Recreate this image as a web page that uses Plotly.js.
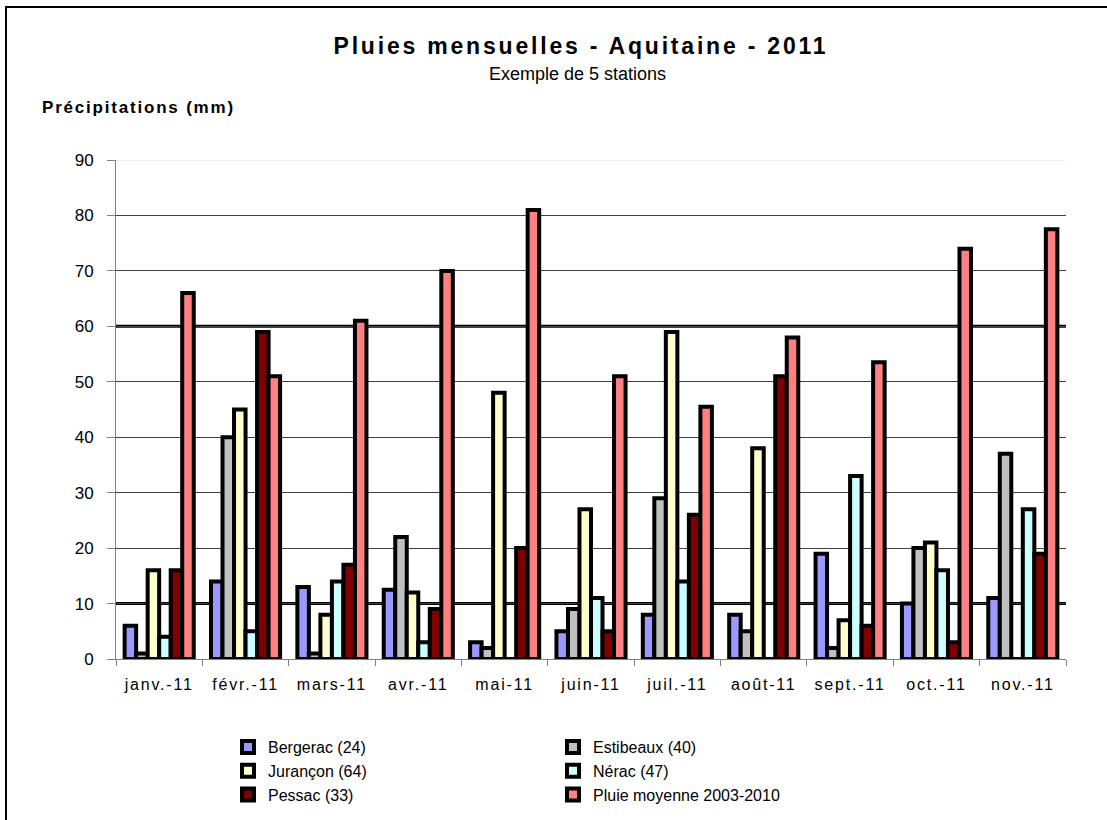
<!DOCTYPE html>
<html>
<head>
<meta charset="utf-8">
<script src="https://cdn.plot.ly/plotly-3.0.1.min.js"></script>
<style>
  html, body { margin:0; padding:0; background:#fff; overflow:hidden; }
  #chart { position:absolute; left:0; top:0; width:1107px; height:820px; }
  #frame { position:absolute; left:5px; top:6px; width:1300px; height:1000px; border:2px solid #000; pointer-events:none; }
</style>
</head>
<body>
<div id="chart"></div>
<div id="frame"></div>
<script>
const months = ['janv.-11','févr.-11','mars-11','avr.-11','mai-11','juin-11','juil.-11','août-11','sept.-11','oct.-11','nov.-11'];
const seriesNames = ['Bergerac (24)','Estibeaux (40)','Jurançon (64)','Nérac (47)','Pessac (33)','Pluie moyenne 2003-2010'];
const bergerac  = [6, 14, 13, 12.5, 3, 5, 8, 8, 19, 10, 11];
const estibeaux = [1, 40, 1, 22, 2, 9, 29, 5, 2, 20, 37];
const jurancon  = [16, 45, 8, 12, 48, 27, 59, 38, 7, 21, 0];
const nerac     = [4, 5, 14, 3, 0, 11, 14, 0, 33, 16, 27];
const pessac    = [16, 59, 17, 9, 20, 5, 26, 51, 6, 3, 19];
const moyenne   = [66, 51, 61, 70, 81, 51, 45.5, 58, 53.5, 74, 77.5];
const yTicks = [0,10,20,30,40,50,60,70,80,90];

const values = [bergerac, estibeaux, jurancon, nerac, pessac, moyenne];
const colors = ['#9999FF','#C0C0C0','#FFFFCC','#CCFFFF','#800000','#FF8080'];
const legendOf = ['legend','legend2','legend','legend2','legend','legend2'];

const font = 'Liberation Sans, Arial, sans-serif';
const spaced = (t, s) => '<span style="letter-spacing:' + s + 'px">' + t + '</span>';

const data = values.map((v, i) => ({
  type: 'bar',
  name: seriesNames[i],
  x: months,
  y: v,
  legend: legendOf[i],
  cliponaxis: false,
  marker: { color: colors[i], line: { color: '#000', width: 4 } },
  hoverinfo: 'x+y+name'
}));

const legendCommon = {
  orientation: 'v',
  font: { family: font, size: 16, color: '#000' },
  bgcolor: 'rgba(0,0,0,0)',
  borderwidth: 0,
  xanchor: 'left',
  yanchor: 'top',
  tracegroupgap: 0
};

const layout = {
  width: 1107,
  height: 820,
  margin: { l: 116, r: 41, t: 160, b: 161, autoexpand: false },
  paper_bgcolor: '#fff',
  plot_bgcolor: '#fff',
  font: { family: font, size: 16, color: '#000' },
  barmode: 'group',
  bargap: 0.2,
  bargroupgap: 0,
  showlegend: true,
  title: {
    text: '<b>' + spaced('Pluies mensuelles - Aquitaine - 2011', 2.8) + '</b>',
    font: { family: font, size: 23, color: '#000' },
    xref: 'container', yref: 'container',
    x: 581 / 1107, xanchor: 'center',
    y: 1 - 46 / 820, yanchor: 'middle'
  },
  annotations: [
    { text: 'Exemple de 5 stations', xref: 'paper', yref: 'paper',
      x: (577 - 116) / 950, y: (659 - 74) / 499, xanchor: 'center', yanchor: 'middle',
      showarrow: false, font: { family: font, size: 18, color: '#000' } },
    { text: '<b>' + spaced('Précipitations (mm)', 1.8) + '</b>', xref: 'paper', yref: 'paper',
      x: (40 - 116) / 950, y: (659 - 107) / 499, xanchor: 'left', yanchor: 'middle',
      showarrow: false, font: { family: font, size: 17, color: '#000' } }
  ],
  xaxis: {
    type: 'category',
    tickmode: 'array', tickvals: months, ticktext: months.map(m => spaced(m, 1.8)),
    showline: true, linecolor: '#808080', linewidth: 1,
    ticks: 'outside', tickson: 'boundaries', ticklen: 6, tickcolor: '#808080',
    showgrid: false, zeroline: false,
    layer: 'below traces',
    automargin: false,
    ticklabelstandoff: 11,
    tickfont: { family: font, size: 16, color: '#000' }
  },
  yaxis: {
    range: [0, 90],
    tickmode: 'array', tickvals: yTicks,
    showline: true, linecolor: '#808080', linewidth: 1,
    ticks: 'outside', ticklen: 8, tickcolor: '#808080',
    showgrid: true, gridcolor: '#404040', gridwidth: 1,
    zeroline: false,
    layer: 'below traces',
    automargin: false,
    ticklabelstandoff: 10,
    tickfont: { family: font, size: 17, color: '#000' }
  },
  shapes: [10, 60].map(v => ({
    type: 'line', xref: 'paper', yref: 'y', x0: 0, x1: 1, y0: v, y1: v,
    layer: 'between', line: { color: '#000', width: 3 }
  })).concat([{
    type: 'line', xref: 'paper', yref: 'y', x0: 0, x1: 1, y0: 90, y1: 90,
    layer: 'between', line: { color: '#dddddd', width: 1 }
  }]),
  legend: Object.assign({}, legendCommon, { x: (228 - 116) / 950, y: (659 - 730) / 499 }),
  legend2: Object.assign({}, legendCommon, { x: (553 - 116) / 950, y: (659 - 730) / 499 })
};

Plotly.newPlot('chart', data, layout, { displayModeBar: false });
</script>
</body>
</html>
